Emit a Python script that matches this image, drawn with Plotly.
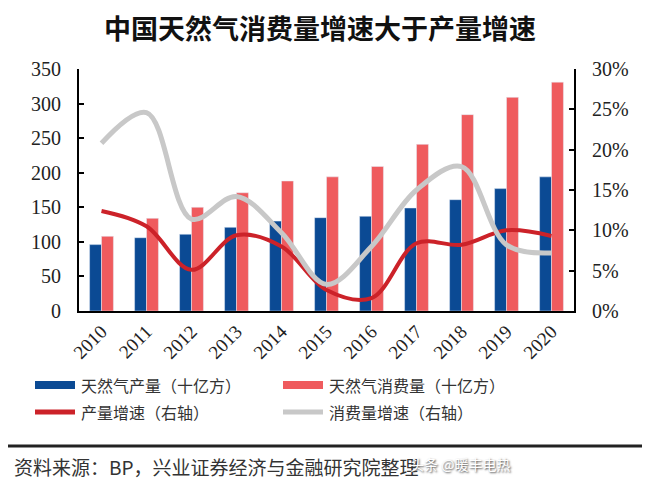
import plotly.graph_objects as go

years = ["2010", "2011", "2012", "2013", "2014", "2015", "2016", "2017", "2018", "2019", "2020"]
production = [96, 106, 111, 121, 130, 135, 137, 149, 161, 177, 194]
consumption = [108, 134, 150, 171, 188, 194, 209, 241, 284, 309, 331]
prod_growth = [0.124, 0.105, 0.051, 0.094, 0.080, 0.026, 0.016, 0.084, 0.082, 0.100, 0.093]
cons_growth = [0.208, 0.246, 0.114, 0.142, 0.097, 0.033, 0.080, 0.150, 0.179, 0.082, 0.072]

left_ticks = [0, 50, 100, 150, 200, 250, 300, 350]
right_ticks = [0, 0.05, 0.10, 0.15, 0.20, 0.25, 0.30]

series_names = ["天然气产量（十亿方）", "天然气消费量（十亿方）", "产量增速（右轴）", "消费量增速（右轴）"]

BLUE = "#0B4A94"
PINK = "#EF5B5E"
RED = "#CC2229"
GREY = "#C8C8C8"

# page has an 8px body margin; work in window pixel coords and convert
OFF = 8
WIN_W, WIN_H = 650, 492
W, H = WIN_W - OFF, WIN_H - OFF
PL, PR, PT, PB = 79, 574, 69, 311  # plot area in window pixels
L, R, T, B = PL - OFF, W - (PR - OFF), PT - OFF, H - (PB - OFF)
PW, PH = W - L - R, H - T - B


def px_x(x):
    return (x - OFF - L) / PW


def px_y(y):
    return (H - B - (y - OFF)) / PH


CJK = "Noto Sans CJK SC"
SERIF = "Liberation Serif"

fig = go.Figure()
fig.add_trace(go.Bar(x=years, y=production, marker_color=BLUE, name=series_names[0]))
fig.add_trace(go.Bar(x=years, y=consumption, marker_color=PINK, name=series_names[1]))
fig.add_trace(go.Scatter(x=years, y=prod_growth, yaxis="y2", mode="lines", name=series_names[2],
                         line=dict(color=RED, width=4, shape="spline", smoothing=1.0)))
fig.add_trace(go.Scatter(x=years, y=cons_growth, yaxis="y2", mode="lines", name=series_names[3],
                         line=dict(color=GREY, width=5, shape="spline", smoothing=1.0)))

# manual legend (2 x 2 grid)
shapes = []
annotations = []
legend_pos = [(35, 385), (283, 385), (35, 412), (283, 412)]
legend_style = [("rect", BLUE), ("rect", PINK), ("line", RED), ("line", GREY)]
for (lx, ly), (kind, color), name in zip(legend_pos, legend_style, series_names):
    if kind == "rect":
        shapes.append(dict(type="rect", xref="paper", yref="paper",
                           x0=px_x(lx), x1=px_x(lx + 40), y0=px_y(ly - 4), y1=px_y(ly + 4),
                           fillcolor=color, line=dict(width=0)))
    else:
        shapes.append(dict(type="line", xref="paper", yref="paper",
                           x0=px_x(lx), x1=px_x(lx + 40), y0=px_y(ly), y1=px_y(ly),
                           line=dict(color=color, width=5)))
    annotations.append(dict(text=name, xref="paper", yref="paper", x=px_x(lx + 44), y=px_y(ly),
                            xanchor="left", yanchor="middle", showarrow=False,
                            font=dict(family=CJK, size=16, color="#333333")))

shapes.append(dict(type="line", xref="paper", yref="paper", x0=px_x(0), x1=px_x(WIN_W + 10),
                   y0=px_y(446), y1=px_y(446), line=dict(color="#222222", width=3)))
annotations.append(dict(text="资料来源：BP，兴业证券经济与金融研究院整理", xref="paper", yref="paper",
                        x=px_x(12), y=px_y(466), xanchor="left", yanchor="middle", showarrow=False,
                        font=dict(family=CJK, size=19, color="#333333")))
annotations.append(dict(text="头条 @暖丰电热", xref="paper", yref="paper",
                        x=px_x(512), y=px_y(464), xanchor="right", yanchor="middle", showarrow=False,
                        font=dict(family=CJK, size=14, color="white", shadow="1px 1px 2px #444")))

fig.update_layout(
    width=W, height=H,
    margin=dict(l=L, r=R, t=T, b=B, autoexpand=False),
    paper_bgcolor="white", plot_bgcolor="white",
    barmode="group", bargap=0.47, bargroupgap=0,
    showlegend=False,
    title=dict(text="<b>中国天然气消费量增速大于产量增速</b>", x=(320 - OFF) / W, xanchor="center",
               y=1 - (30 - OFF) / H, yanchor="middle", yref="container",
               font=dict(family=CJK, size=27, color="#111111")),
    xaxis=dict(type="category", showline=True, linecolor="black", linewidth=2, ticks="",
               tickangle=-45, tickfont=dict(family=SERIF, size=19, color="#222222"),
               showgrid=False, automargin=False),
    yaxis=dict(range=[0, 350], tickvals=left_ticks, showline=True, linecolor="black", linewidth=2,
               ticks="inside", ticklen=5, tickwidth=2, tickcolor="black", showgrid=False, zeroline=False,
               tickfont=dict(family=SERIF, size=20, color="#222222"), ticklabelstandoff=12,
               automargin=False),
    yaxis2=dict(range=[0, 0.30], tickvals=right_ticks, tickformat=".0%", overlaying="y", side="right",
                showline=True, linecolor="black", linewidth=2, ticks="inside", ticklen=5, tickwidth=2,
                tickcolor="black", showgrid=False, zeroline=False,
                tickfont=dict(family=SERIF, size=20, color="#222222"), ticklabelstandoff=12,
                automargin=False),
    shapes=shapes,
    annotations=annotations,
)

fig.write_html("out.html")
